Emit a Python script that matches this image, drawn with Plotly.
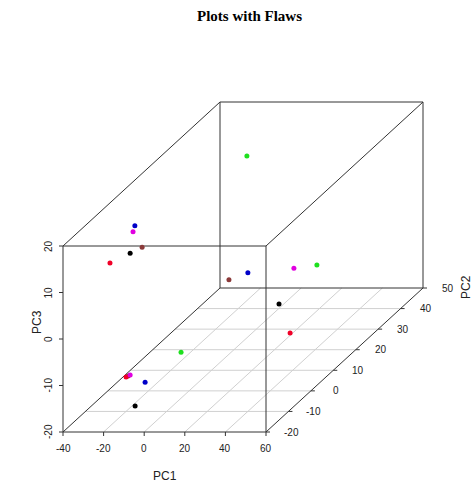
import plotly.graph_objects as go

# ---- data ----
pc1 = [-15.7, -26.7, -27.6, -17.6, -23.5, -27.9, -13.5, -9.7, 18.5, 24.3,
       16.7, 33.2, -15.0, -24.5, -25.5, -23.5, -10.6, -10.0]
pc2 = [40, 0, 0, -5, -5, -10, 30, 35, 30, 35,
       25, 15, 10, -5, -5, -5, -10, -15]
pc3 = [12.8, 15.5, 14.2, 13.1, 11.8, 11.9, -9.4, -10.1, -6.9, -8.4,
       -12.4, -14.2, -16.1, -14.6, -14.8, -14.4, -13.7, -16.6]
colors = ["#1EE01E", "#0000C8", "#E000E0", "#8B3A3A", "#000000", "#F00028",
          "#8B3A3A", "#0000C8", "#E000E0", "#1EE01E",
          "#000000", "#F00028", "#1EE01E", "#8B3A3A", "#F00028", "#E000E0",
          "#0000C8", "#000000"]

x_ticks = [-40, -20, 0, 20, 40, 60]
y_ticks = [-20, -10, 0, 10, 20, 30, 40, 50]
z_ticks = [-20, -10, 0, 10, 20]
x_lim = (-40, 60)
y_lim = (-20, 50)
z_lim = (-20, 20)

# ---- projection (scatterplot3d-like, oblique) ----
X0, Y0 = 63.0, 432.0        # pixel of (xmin, ymin, zmin)
XW, ZH = 203.0, 186.0       # front face width/height in px
DX, DY = 157.0, -144.0      # depth offset for full PC2 range


def proj(x, y, z):
    fx = (x - x_lim[0]) / (x_lim[1] - x_lim[0])
    fy = (y - y_lim[0]) / (y_lim[1] - y_lim[0])
    fz = (z - z_lim[0]) / (z_lim[1] - z_lim[0])
    return X0 + fx * XW + fy * DX, Y0 - fz * ZH + fy * DY


fig = go.Figure()


def seg(p, q, color, width=1):
    a = proj(*p)
    b = proj(*q)
    fig.add_trace(go.Scatter(x=[a[0], b[0]], y=[a[1], b[1]], mode="lines",
                             line=dict(color=color, width=width),
                             hoverinfo="skip", showlegend=False))


# floor grid
gridc = "#D0D0D0"
for yv in y_ticks[1:-1]:
    seg((x_lim[0], yv, z_lim[0]), (x_lim[1], yv, z_lim[0]), gridc)
for xv in x_ticks[1:-1]:
    seg((xv, y_lim[0], z_lim[0]), (xv, y_lim[1], z_lim[0]), gridc)

# box edges
boxc = "#333333"
xs, ys, zs = x_lim, y_lim, z_lim
for yv in ys:
    for zv in zs:
        seg((xs[0], yv, zv), (xs[1], yv, zv), boxc)
for xv in xs:
    for zv in zs:
        seg((xv, ys[0], zv), (xv, ys[1], zv), boxc)
for xv in xs:
    for yv in ys:
        seg((xv, yv, zs[0]), (xv, yv, zs[1]), boxc)

# points
pts = [proj(a, b, c) for a, b, c in zip(pc1, pc2, pc3)]
fig.add_trace(go.Scatter(x=[p[0] for p in pts], y=[p[1] for p in pts],
                         mode="markers",
                         marker=dict(color=colors, size=5, line=dict(width=0)),
                         showlegend=False))

ann = []
font = dict(family="Liberation Sans, Arial, sans-serif", size=10, color="#222")

# x ticks & labels
for xv in x_ticks:
    px, py = proj(xv, y_lim[0], z_lim[0])
    fig.add_trace(go.Scatter(x=[px, px], y=[py, py + 4], mode="lines",
                             line=dict(color=boxc, width=1), hoverinfo="skip",
                             showlegend=False))
    ann.append(dict(x=px, y=py + 16, text=str(xv), showarrow=False, font=font))

# z ticks & labels
for zv in z_ticks:
    px, py = proj(x_lim[0], y_lim[0], zv)
    fig.add_trace(go.Scatter(x=[px - 4, px], y=[py, py], mode="lines",
                             line=dict(color=boxc, width=1), hoverinfo="skip",
                             showlegend=False))
    ann.append(dict(x=px - 15, y=py, text=str(zv), showarrow=False, font=font,
                    textangle=-90))

# y ticks & labels
for yv in y_ticks:
    px, py = proj(x_lim[1], yv, z_lim[0])
    fig.add_trace(go.Scatter(x=[px, px + 4], y=[py, py], mode="lines",
                             line=dict(color=boxc, width=1), hoverinfo="skip",
                             showlegend=False))
    ann.append(dict(x=px + 25, y=py, text=str(yv), showarrow=False, font=font))

tfont = dict(family="Liberation Sans, Arial, sans-serif", size=12, color="#222")
ann.append(dict(x=165, y=476, text="PC1", showarrow=False, font=tfont))
ann.append(dict(x=37, y=322, text="PC3", showarrow=False, font=tfont, textangle=-90))
ann.append(dict(x=466, y=287, text="PC2", showarrow=False, font=tfont, textangle=-90))
ann.append(dict(x=249, y=16, text="<b>Plots with Flaws</b>", showarrow=False,
                font=dict(family="Liberation Serif, Times New Roman, serif", size=15,
                          color="#000")))

for a in ann:
    a.update(xref="x", yref="y")

fig.update_layout(
    width=476, height=489,
    margin=dict(l=0, r=0, t=0, b=0),
    paper_bgcolor="white", plot_bgcolor="white",
    xaxis=dict(range=[0, 476], visible=False, fixedrange=True),
    yaxis=dict(range=[489, 0], visible=False, fixedrange=True),
    annotations=ann,
    showlegend=False,
)

fig.write_html("out.html")
